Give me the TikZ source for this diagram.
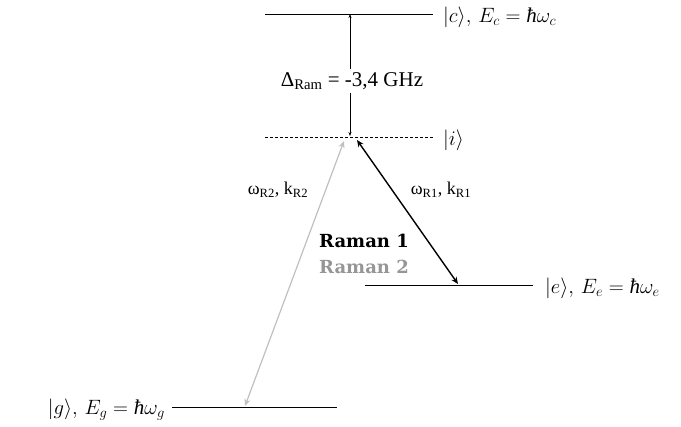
\documentclass[tikz,border=0pt]{standalone}
\usepackage[no-math]{fontspec}
\setmainfont{Liberation Serif}
\newfontfamily\ramanfont{DejaVu Serif}
\usetikzlibrary{arrows.meta}
\definecolor{lightgr}{RGB}{192,192,192}
\definecolor{midgr}{RGB}{150,150,150}
\newcommand{\myhbar}{\mbox{\itshape ħ}}
\tikzset{
  level/.style={line width=0.9pt},
  statelab/.style={inner sep=0pt, font=\fontsize{21}{24}\selectfont},
  smalllab/.style={inner sep=1pt, font=\fontsize{18}{20}\selectfont},
  tip/.style={{Stealth[length=7pt,width=6pt]}-{Stealth[length=7pt,width=6pt]}}
}
\begin{document}
\begin{tikzpicture}[x=1pt,y=-1pt]
\useasboundingbox (0,0) rectangle (681,427);
% levels
\coordinate (c1) at (265,14); \coordinate (c2) at (433,14);
\coordinate (i1) at (265,137); \coordinate (i2) at (433,137);
\coordinate (e1) at (365,285); \coordinate (e2) at (533,285);
\coordinate (g1) at (172,407); \coordinate (g2) at (337,407);
\draw[level] (c1) -- (c2);
\draw[level, dash pattern=on 3pt off 2pt, line width=0.6pt] (i1) -- (i2);
\draw[level] (e1) -- (e2);
\draw[level] (g1) -- (g2);
% labels
\node[statelab, anchor=west] (lc) at (443,17) {$|c\rangle,\,E_{c} = \myhbar\omega_{c}$};
\node[statelab, anchor=west] (li) at (443,140) {$|i\rangle$};
\node[statelab, anchor=west] (le) at (545,288) {$|e\rangle,\,E_{e} = \myhbar\omega_{e}$};
\node[statelab, anchor=east] (lg) at (165,410) {$|g\rangle,\,E_{g} = \myhbar\omega_{g}$};
% detuning arrow
\coordinate (dtop) at (350,14);
\coordinate (dbot) at (350,136);
\node[inner sep=3pt, font=\fontsize{21}{23}\selectfont] (delta) at (352,81) {Δ\textsubscript{Ram} = -3,4 GHz};
\draw[{Stealth[length=4pt,width=3pt]}-, line width=0.6pt] (dtop) -- (dtop |- delta.north);
\draw[-{Stealth[length=4pt,width=3pt]}, line width=0.6pt] (dbot |- delta.south) -- (dbot);
% Raman arrows
\coordinate (iR) at (357,140); \coordinate (eR) at (458,284);
\coordinate (iL) at (344,141); \coordinate (gL) at (245,406);
\draw[tip, line width=1.4pt] (iR) -- (eR);
\draw[tip, lightgr, line width=1.2pt] (iL) -- (gL);
\node[smalllab] (w2) at (278,190) {ω\textsubscript{R2}, k\textsubscript{R2}};
\node[smalllab] (w1) at (441,190) {ω\textsubscript{R1}, k\textsubscript{R1}};
\node[inner sep=0pt, font=\ramanfont\bfseries\fontsize{18}{20}\selectfont] (r1) at (364,241) {Raman 1};
\node[inner sep=0pt, midgr, font=\ramanfont\bfseries\fontsize{18}{20}\selectfont] (r2) at (364,267) {Raman 2};
\end{tikzpicture}
\end{document}
